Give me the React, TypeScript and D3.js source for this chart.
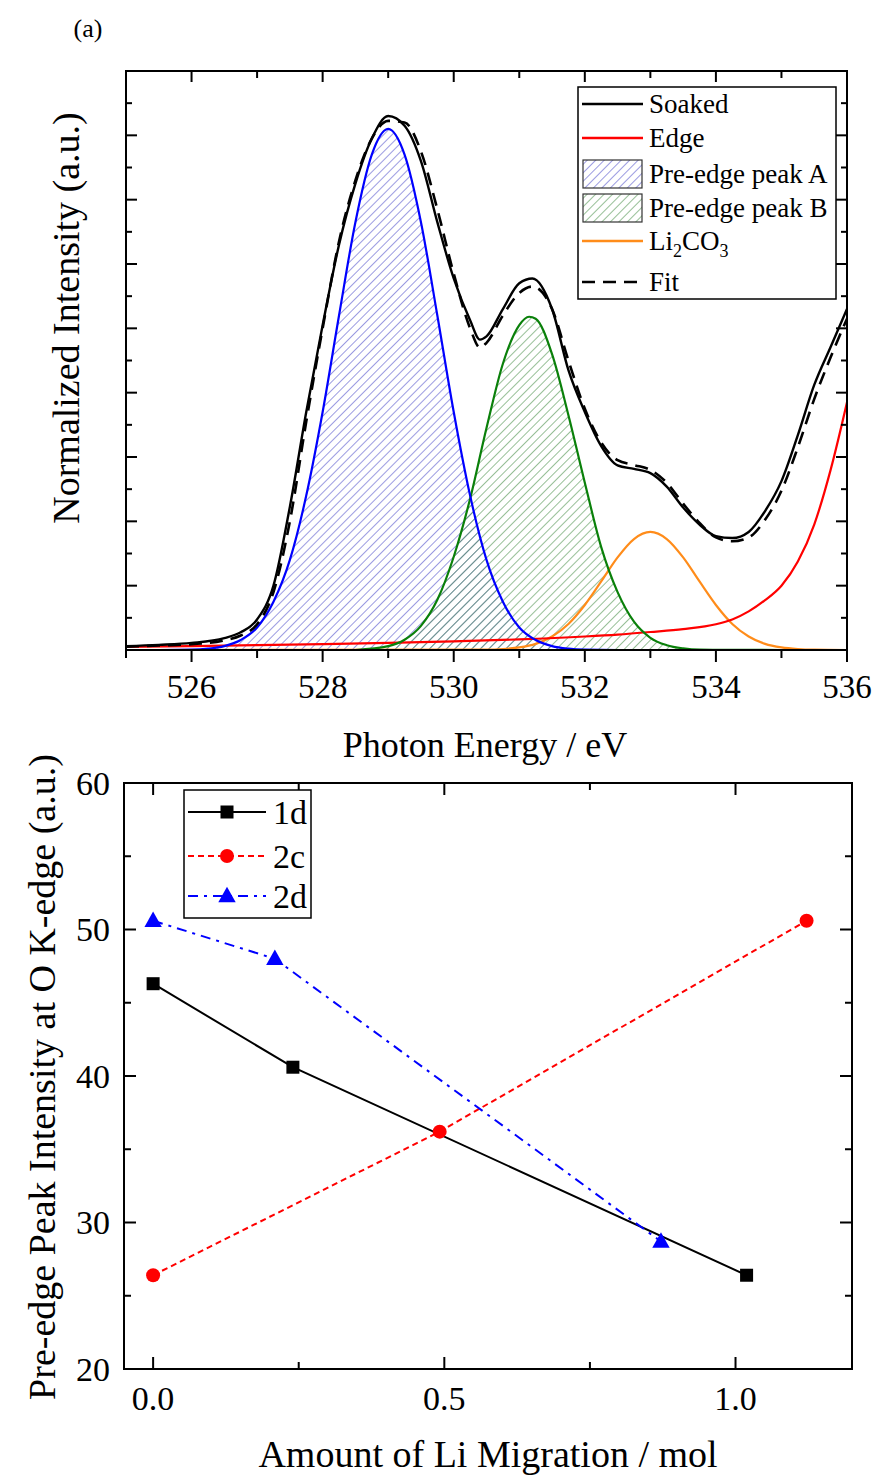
import React from "react";
import * as d3 from "d3";

// ---------- Top panel data (a.u.) ----------
const soakedE = [525, 525.5, 526, 526.5, 526.75, 527, 527.25, 527.5, 527.75, 528, 528.25, 528.5, 528.75, 529, 529.25, 529.5, 529.75, 530, 530.25, 530.4, 530.5, 530.75, 531, 531.2, 531.5, 531.75, 532, 532.25, 532.5, 532.75, 533, 533.25, 533.5, 533.75, 534, 534.25, 534.5, 534.75, 535, 535.25, 535.5, 535.75, 536];
const soakedV = [0.12, 0.16, 0.22, 0.37, 0.55, 0.95, 2.0, 4.45, 7.4, 10.1, 12.6, 14.5, 15.9, 16.6, 16.3, 15.2, 13.3, 11.55, 10.25, 9.65, 9.75, 10.6, 11.4, 11.55, 10.6, 8.7, 7.4, 6.34, 5.74, 5.63, 5.5, 5.08, 4.43, 3.9, 3.54, 3.48, 3.67, 4.32, 5.25, 6.68, 8.24, 9.42, 10.6];
const fitV = [0.1, 0.14, 0.18, 0.3, 0.45, 0.8, 1.8, 4.0, 7.1, 10.0, 12.7, 14.6, 15.9, 16.45, 16.4, 15.5, 13.7, 11.7, 10.0, 9.4, 9.55, 10.4, 11.1, 11.3, 10.6, 9.0, 7.5, 6.45, 5.9, 5.75, 5.6, 5.2, 4.55, 3.95, 3.5, 3.38, 3.5, 4.05, 4.95, 6.3, 7.8, 9.1, 10.3];

const edgeE = [525, 526, 527, 528, 529, 530, 531, 532, 532.5, 533, 533.5, 534, 534.25, 534.5, 534.75, 535, 535.25, 535.5, 535.75, 536];
const edgeV = [0.1, 0.12, 0.15, 0.18, 0.22, 0.27, 0.33, 0.42, 0.48, 0.56, 0.65, 0.8, 0.95, 1.2, 1.55, 2.0, 2.75, 3.9, 5.6, 7.7];

const peakAE = [525.5, 526, 526.25, 526.5, 526.75, 527, 527.25, 527.5, 527.75, 528, 528.25, 528.5, 528.75, 529, 529.25, 529.5, 529.75, 530, 530.25, 530.5, 530.75, 531, 531.25, 531.5, 531.75, 532, 532.5, 533.5];
const peakAV = [0, 0.01, 0.04, 0.12, 0.31, 0.7, 1.5, 2.8, 4.8, 7.4, 10.4, 13.3, 15.4, 16.2, 15.4, 13.3, 10.4, 7.4, 4.8, 2.8, 1.5, 0.7, 0.31, 0.12, 0.04, 0.01, 0, 0];

const peakBE = [528.5, 529, 529.25, 529.5, 529.75, 530, 530.25, 530.5, 530.75, 531, 531.15, 531.25, 531.5, 531.75, 532, 532.25, 532.5, 532.75, 533, 533.25, 533.5, 533.75, 535];
const peakBV = [0, 0.12, 0.32, 0.75, 1.56, 2.9, 4.7, 6.9, 8.9, 10.1, 10.36, 10.3, 9.2, 7.3, 5.2, 3.2, 1.8, 0.88, 0.38, 0.15, 0.05, 0.01, 0];

const li2co3E = [525, 530.5, 530.75, 531, 531.25, 531.5, 531.75, 532, 532.25, 532.5, 532.75, 533, 533.25, 533.5, 533.75, 534, 534.25, 534.5, 534.75, 535, 535.25, 535.5, 536];
const li2co3V = [0, 0.01, 0.03, 0.08, 0.19, 0.42, 0.81, 1.4, 2.13, 2.88, 3.45, 3.67, 3.45, 2.88, 2.13, 1.4, 0.81, 0.42, 0.19, 0.08, 0.03, 0.01, 0];

const topXTicks = [526, 528, 530, 532, 534, 536];

// ---------- Bottom panel data ----------
const x1d = [0, 0.24, 1.019];
const y1d = [46.3, 40.6, 26.4];
const x2c = [0, 0.492, 1.122];
const y2c = [26.4, 36.2, 50.6];
const x2d = [0, 0.209, 0.872];
const y2d = [50.6, 48.0, 28.7];
const botXTicks = [0, 0.5, 1.0];
const botXLabels = ["0.0", "0.5", "1.0"];
const botYTicks = [20, 30, 40, 50, 60];

const FONT = "'Liberation Serif', 'Times New Roman', serif";

export default function App() {
  // Top scales
  const tL = 126, tR = 847, tT = 71, tB = 650;
  const x = d3.scaleLinear().domain([525, 536]).range([tL, tR]);
  const y = d3.scaleLinear().domain([0, 18]).range([tB, tT]);
  // Bottom scales
  const bL = 124, bR = 852, bT = 783, bB = 1369;
  const x2 = d3.scaleLinear().domain([-0.05, 1.2]).range([bL, bR]);
  const y2 = d3.scaleLinear().domain([20, 60]).range([bB, bT]);

  const mk = (E: number[], V: number[]) => E.map((e, i) => [e, V[i]] as [number, number]);
  const line = d3.line<[number, number]>().x(d => x(d[0])).y(d => y(d[1])).curve(d3.curveMonotoneX);
  const area = d3.area<[number, number]>().x(d => x(d[0])).y0(y(0)).y1(d => y(d[1])).curve(d3.curveMonotoneX);
  const line2 = d3.line<[number, number]>().x(d => x2(d[0])).y(d => y2(d[1]));

  const soaked = mk(soakedE, soakedV);
  const fit = mk(soakedE, fitV);
  const edge = mk(edgeE, edgeV);
  const pA = mk(peakAE, peakAV);
  const pB = mk(peakBE, peakBV);
  const li = mk(li2co3E, li2co3V);

  const topMinorX = d3.range(525, 536.01, 1);
  const topYT = d3.range(0, 18.01, 1);
  const botMinorX = d3.range(0, 1.21, 0.25);
  const botYMinor = d3.range(20, 60.01, 5);

  const tickEls: JSX.Element[] = [];
  // top panel ticks
  topMinorX.forEach((v, i) => {
    const major = Math.round(v) % 2 === 0;
    const px = x(v);
    tickEls.push(<line key={"tb" + i} x1={px} x2={px} y1={tB} y2={tB + (major ? 12 : 8)} stroke="#000" strokeWidth={2} />);
    tickEls.push(<line key={"tt" + i} x1={px} x2={px} y1={tT} y2={tT + (major ? 11 : 7)} stroke="#000" strokeWidth={2} />);
  });
  topYT.forEach((v, i) => {
    const major = Math.round(v) % 2 === 0;
    const py = y(v);
    tickEls.push(<line key={"tl" + i} x1={tL} x2={tL + (major ? 11 : 6)} y1={py} y2={py} stroke="#000" strokeWidth={2} />);
    tickEls.push(<line key={"tr" + i} x1={tR} x2={tR - (major ? 11 : 6)} y1={py} y2={py} stroke="#000" strokeWidth={2} />);
  });
  // bottom panel ticks
  botMinorX.forEach((v, i) => {
    if (v > 1.2) return;
    const major = Math.abs(v * 2 - Math.round(v * 2)) < 1e-6;
    const px = x2(v);
    tickEls.push(<line key={"bb" + i} x1={px} x2={px} y1={bB} y2={bB - (major ? 12 : 7)} stroke="#000" strokeWidth={2} />);
    tickEls.push(<line key={"bt" + i} x1={px} x2={px} y1={bT} y2={bT + (major ? 12 : 7)} stroke="#000" strokeWidth={2} />);
  });
  botYMinor.forEach((v, i) => {
    const major = v % 10 === 0;
    const py = y2(v);
    tickEls.push(<line key={"bl" + i} x1={bL} x2={bL + (major ? 12 : 7)} y1={py} y2={py} stroke="#000" strokeWidth={2} />);
    tickEls.push(<line key={"br" + i} x1={bR} x2={bR - (major ? 12 : 7)} y1={py} y2={py} stroke="#000" strokeWidth={2} />);
  });

  const blue = "#0000ff", green = "#0a800a", orange = "#ff8c1a", red = "#ff0000";
  const hatchBlue = "#4646c8", hatchGreen = "#3f8a3f";

  const leg = [
    { t: "Soaked", y: 104, kind: "line", c: "#000", dash: "" },
    { t: "Edge", y: 138, kind: "line", c: red, dash: "" },
    { t: "Pre-edge peak A", y: 174, kind: "rect", c: "url(#hatchA)", dash: "" },
    { t: "Pre-edge peak B", y: 208, kind: "rect", c: "url(#hatchB)", dash: "" },
    { t: "Li2CO3", y: 241, kind: "line", c: orange, dash: "" },
    { t: "Fit", y: 282, kind: "line", c: "#000", dash: "13,8" },
  ];

  const tri = (cx: number, cy: number, s: number) => `M${cx},${cy - s * 0.62}L${cx + s * 0.58},${cy + s * 0.42}L${cx - s * 0.58},${cy + s * 0.42}Z`;

  return (
    <svg width={877} height={1477} style={{ position: "absolute", left: 0, top: 0, background: "#fff" }} fontFamily={FONT}>
      <defs>
        <pattern id="hatchA" patternUnits="userSpaceOnUse" width={6} height={6} patternTransform="rotate(45)">
          <line x1={0} y1={0} x2={0} y2={6} stroke={hatchBlue} strokeWidth={1.1} />
        </pattern>
        <pattern id="hatchB" patternUnits="userSpaceOnUse" width={6} height={6} patternTransform="rotate(45)">
          <line x1={0} y1={0} x2={0} y2={6} stroke={hatchGreen} strokeWidth={1.1} />
        </pattern>
        <clipPath id="clipTop"><rect x={tL} y={tT} width={tR - tL} height={tB - tT} /></clipPath>
      </defs>
      <rect x={0} y={0} width={877} height={1477} fill="#fff" />

      <text x={88} y={37} fontSize={26} textAnchor="middle">(a)</text>

      {/* ---------- top panel ---------- */}
      <g clipPath="url(#clipTop)">
        <path d={area(pA) || ""} fill="url(#hatchA)" />
        <path d={area(pB) || ""} fill="url(#hatchB)" />
        <path d={line(li) || ""} fill="none" stroke={orange} strokeWidth={2.2} />
        <path d={line(edge) || ""} fill="none" stroke={red} strokeWidth={2.2} />
        <path d={line(pB) || ""} fill="none" stroke={green} strokeWidth={2.2} />
        <path d={line(pA) || ""} fill="none" stroke={blue} strokeWidth={2.2} />
        <path d={line(fit) || ""} fill="none" stroke="#000" strokeWidth={2.6} strokeDasharray="13,8" />
        <path d={line(soaked) || ""} fill="none" stroke="#000" strokeWidth={2.4} />
      </g>
      <rect x={tL} y={tT} width={tR - tL} height={tB - tT} fill="none" stroke="#000" strokeWidth={2} />
      {topXTicks.map((v) => (
        <text key={"tx" + v} x={x(v)} y={698} fontSize={33} textAnchor="middle">{v}</text>
      ))}
      <text x={485} y={757} fontSize={36} textAnchor="middle">Photon Energy / eV</text>
      <text transform={`translate(66,318) rotate(-90)`} fontSize={38} textAnchor="middle" dy="0.35em">Normalized Intensity (a.u.)</text>

      {/* top legend */}
      <rect x={578} y={87} width={258} height={212} fill="#fff" stroke="#000" strokeWidth={1.5} />
      {leg.map((l) => (
        <g key={l.t}>
          {l.kind === "line" ? (
            <line x1={582} x2={643} y1={l.y} y2={l.y} stroke={l.c} strokeWidth={2.6} strokeDasharray={l.dash || undefined} />
          ) : (
            <rect x={583} y={l.y - 14} width={59} height={28} fill={l.c} stroke="#333" strokeWidth={1.2} />
          )}
          {l.t === "Li2CO3" ? (
            <text x={649} y={l.y + 9} fontSize={27}>Li<tspan fontSize={18} dy={7}>2</tspan><tspan dy={-7}>CO</tspan><tspan fontSize={18} dy={7}>3</tspan></text>
          ) : (
            <text x={649} y={l.y + 9} fontSize={27}>{l.t}</text>
          )}
        </g>
      ))}

      {/* ---------- bottom panel ---------- */}
      <path d={line2(mk(x1d, y1d)) || ""} fill="none" stroke="#000" strokeWidth={2} />
      <path d={line2(mk(x2c, y2c)) || ""} fill="none" stroke={red} strokeWidth={2} strokeDasharray="6,4" />
      <path d={line2(mk(x2d, y2d)) || ""} fill="none" stroke={blue} strokeWidth={2} strokeDasharray="10,6,3,6" />
      {x1d.map((v, i) => (
        <rect key={"s" + i} x={x2(v) - 6.5} y={y2(y1d[i]) - 6.5} width={13} height={13} fill="#000" />
      ))}
      {x2c.map((v, i) => (
        <circle key={"c" + i} cx={x2(v)} cy={y2(y2c[i])} r={7} fill={red} />
      ))}
      {x2d.map((v, i) => (
        <path key={"t" + i} d={tri(x2(v), y2(y2d[i]), 15)} fill={blue} />
      ))}
      <rect x={bL} y={bT} width={bR - bL} height={bB - bT} fill="none" stroke="#000" strokeWidth={2} />
      {botXTicks.map((v, i) => (
        <text key={"bx" + i} x={x2(v)} y={1410} fontSize={34} textAnchor="middle">{botXLabels[i]}</text>
      ))}
      {botYTicks.map((v) => (
        <text key={"by" + v} x={110} y={y2(v) + 11.5} fontSize={34} textAnchor="end">{v}</text>
      ))}
      <text x={488} y={1467} fontSize={38} textAnchor="middle">Amount of Li Migration / mol</text>
      <text transform={`translate(42,1077) rotate(-90)`} fontSize={38} textAnchor="middle" dy="0.35em">Pre-edge Peak Intensity at O K-edge (a.u.)</text>

      {/* bottom legend */}
      <rect x={184} y={790} width={127} height={128} fill="#fff" stroke="#000" strokeWidth={1.5} />
      <line x1={188} x2={266} y1={812} y2={812} stroke="#000" strokeWidth={2} />
      <rect x={227 - 6.5} y={812 - 6.5} width={13} height={13} fill="#000" />
      <text x={273} y={824} fontSize={34}>1d</text>
      <line x1={188} x2={266} y1={856} y2={856} stroke={red} strokeWidth={2} strokeDasharray="6,4" />
      <circle cx={227} cy={856} r={7} fill={red} />
      <text x={273} y={868} fontSize={34}>2c</text>
      <line x1={188} x2={266} y1={896} y2={896} stroke={blue} strokeWidth={2} strokeDasharray="10,6,3,6" />
      <path d={tri(227, 896, 15)} fill={blue} />
      <text x={273} y={908} fontSize={34}>2d</text>

      {tickEls}
    </svg>
  );
}
